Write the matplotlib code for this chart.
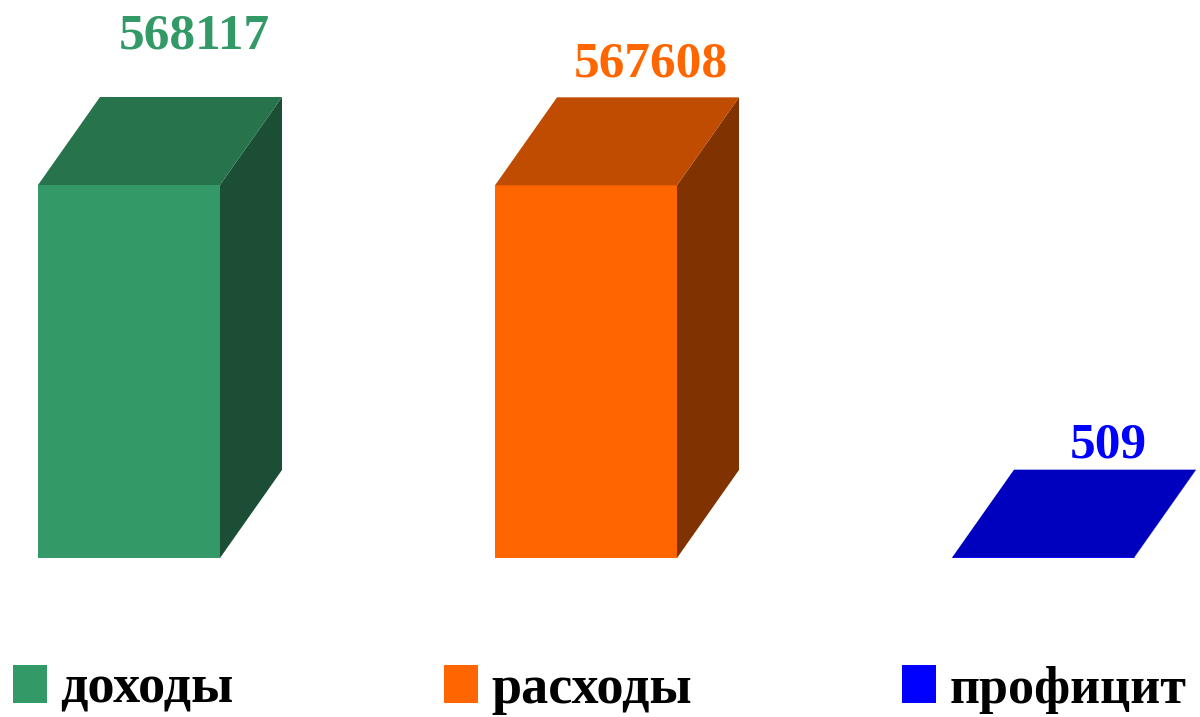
import matplotlib
matplotlib.use("Agg")
import matplotlib.pyplot as plt
from matplotlib.patches import Polygon, Patch

categories = ["доходы", "расходы", "профицит"]
values = [568117, 567608, 509]
labels = ["568117", "567608", "509"]

front_colors = ["#339966", "#FF6600", "#0000FF"]
top_colors = ["#26734C", "#BF4C00", "#0000BF"]
side_colors = ["#1C4D35", "#803300", "#000080"]
label_colors = ["#339966", "#FF6600", "#0000FF"]
label_offsets_pt = [35, 15, 9]

W, H = 1200, 717
fig = plt.figure(figsize=(W / 100, H / 100), dpi=100)
base_px = 558
top_px = 185
ymax = values[0] * base_px / (base_px - top_px)
ax = fig.add_axes([0, (H - base_px) / H, 1, base_px / H])
spacing_px = 457
x0_px = 129
ax.set_xlim(-x0_px / spacing_px, (W - x0_px) / spacing_px)
ax.set_ylim(0, ymax)
ax.axis("off")

bw = 182 / spacing_px
dx = 62 / spacing_px
dy = 88 * ymax / base_px

font = "Liberation Serif"
for i, (v, lab) in enumerate(zip(values, labels)):
    l, r = i - bw / 2, i + bw / 2
    front = Polygon([(l, 0), (r, 0), (r, v), (l, v)], closed=True,
                    facecolor=front_colors[i], edgecolor="none", zorder=2)
    top = Polygon([(l, v), (r, v), (r + dx, v + dy), (l + dx, v + dy)], closed=True,
                  facecolor=top_colors[i], edgecolor="none", zorder=3)
    side = Polygon([(r, 0), (r + dx, dy), (r + dx, v + dy), (r, v)], closed=True,
                   facecolor=side_colors[i], edgecolor="none", zorder=1)
    for p in (side, front, top):
        ax.add_patch(p)
    if v < ymax * 0.01:
        ax.plot([l, r], [0, 0], color=front_colors[i], lw=2, zorder=4,
                solid_capstyle="butt")
    ax.annotate(lab, (i + dx * 1.05, v + dy), xytext=(0, label_offsets_pt[i]),
                textcoords="offset points", ha="center", va="baseline",
                fontsize=37, fontweight="bold", family=font,
                color=label_colors[i], annotation_clip=False)

handles = [Patch(facecolor=c, edgecolor="none") for c in front_colors]
leg = fig.legend(handles, categories, loc="lower left", bbox_to_anchor=(13 / W, 2 / H),
                 ncol=3, frameon=False, borderpad=0, borderaxespad=0,
                 prop={"family": font, "weight": "bold", "size": 39},
                 handlelength=0.627, handleheight=0.70, handletextpad=0.24,
                 columnspacing=3.89)
leg.get_texts()[2].set_fontsize(37.5)

fig.savefig("out.png", dpi=100)
